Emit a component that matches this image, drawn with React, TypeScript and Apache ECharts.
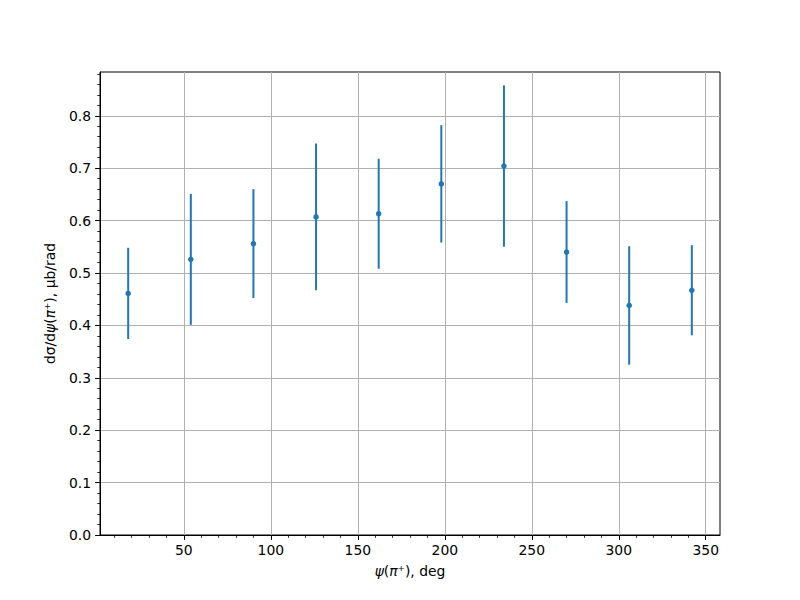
import React, { useEffect, useRef } from "react";
import * as echarts from "echarts";

const psiDeg = [18, 54, 90, 126, 162, 198, 234, 270, 306, 342];
const dSigma = [0.461, 0.526, 0.556, 0.607, 0.613, 0.67, 0.704, 0.54, 0.438, 0.467];
const dSigmaErr = [0.087, 0.125, 0.104, 0.14, 0.105, 0.112, 0.154, 0.097, 0.113, 0.086];
const xTicks = [50, 100, 150, 200, 250, 300, 350];
const yTicks = [0, 0.1, 0.2, 0.3, 0.4, 0.5, 0.6, 0.7, 0.8];

const FONT = "DejaVu Sans";
const BLUE = "#1f77b4";

export default function App() {
  const ref = useRef<HTMLDivElement>(null);
  useEffect(() => {
    if (!ref.current) return;
    const chart = echarts.init(ref.current, undefined, { renderer: "svg" });
    const pts = psiDeg.map((x, i) => [x, dSigma[i], dSigmaErr[i]]);
    const rich = {
      i: { fontFamily: FONT, fontSize: 13.9, fontStyle: "italic", color: "#000" },
      n: { fontFamily: FONT, fontSize: 13.9, color: "#000" },
    };
    chart.setOption({
      animation: false,
      backgroundColor: "#ffffff",
      textStyle: { fontFamily: FONT },
      grid: {
        left: 100,
        right: 80,
        top: 72,
        bottom: 65,
        show: true,
        borderColor: "#000",
        borderWidth: 1,
        backgroundColor: "transparent",
        containLabel: false,
        outerBoundsMode: "none",
      },
      xAxis: {
        type: "value",
        min: 1.8,
        max: 358.2,
        minInterval: 50,
        maxInterval: 50,
        name: "{i|ψ}{n|(}{i|π⁺}{n|), deg}",
        nameLocation: "middle",
        nameGap: 29,
        nameTextStyle: { color: "#000", rich },
        axisLine: { show: true, onZero: false, lineStyle: { color: "#000", width: 1 } },
        axisTick: {
          show: true,
          inside: false,
          length: 4.9,
          lineStyle: { color: "#000", width: 1 },
          customValues: xTicks,
        },
        minorTick: { show: true, splitNumber: 5, length: 2.8, lineStyle: { color: "#000", width: 0.8 } },
        axisLabel: {
          show: true,
          margin: 8,
          color: "#000",
          fontFamily: FONT,
          fontSize: 13.9,
          customValues: xTicks,
          formatter: (v: number) => String(v),
        },
        splitLine: { show: true, lineStyle: { color: "#b0b0b0", width: 1 } },
        minorSplitLine: { show: false },
      },
      yAxis: {
        type: "value",
        min: 0,
        max: 0.8835,
        minInterval: 0.1,
        maxInterval: 0.1,
        name: "{n|dσ/d}{i|ψ}{n|(}{i|π⁺}{n|), μb/rad}",
        nameLocation: "middle",
        nameGap: 43,
        nameRotate: 90,
        nameTextStyle: { color: "#000", rich },
        axisLine: { show: true, onZero: false, lineStyle: { color: "#000", width: 1 } },
        axisTick: {
          show: true,
          inside: false,
          length: 4.9,
          lineStyle: { color: "#000", width: 1 },
          customValues: yTicks,
        },
        minorTick: { show: true, splitNumber: 5, length: 2.8, lineStyle: { color: "#000", width: 0.8 } },
        axisLabel: {
          show: true,
          margin: 9,
          color: "#000",
          fontFamily: FONT,
          fontSize: 13.9,
          customValues: yTicks,
          formatter: (v: number) => v.toFixed(1),
        },
        splitLine: { show: true, lineStyle: { color: "#b0b0b0", width: 1 } },
        minorSplitLine: { show: false },
      },
      series: [
        {
          type: "custom",
          data: pts,
          encode: { x: 0, y: 1 },
          z: 3,
          renderItem: (params: any, api: any) => {
            const x = api.value(0);
            const y = api.value(1);
            const e = api.value(2);
            const top = api.coord([x, y + e]);
            const bot = api.coord([x, y - e]);
            return {
              type: "line",
              shape: { x1: top[0], y1: top[1], x2: bot[0], y2: bot[1] },
              style: { stroke: BLUE, lineWidth: 2 },
            };
          },
        },
        {
          type: "scatter",
          data: pts.map((p) => [p[0], p[1]]),
          symbol: "circle",
          symbolSize: 5.5,
          itemStyle: { color: BLUE, opacity: 1 },
          z: 4,
        },
      ],
    });
    return () => chart.dispose();
  }, []);
  return (
    <div
      ref={ref}
      style={{ position: "fixed", left: 0, top: 0, width: 800, height: 600, background: "#fff" }}
    />
  );
}
